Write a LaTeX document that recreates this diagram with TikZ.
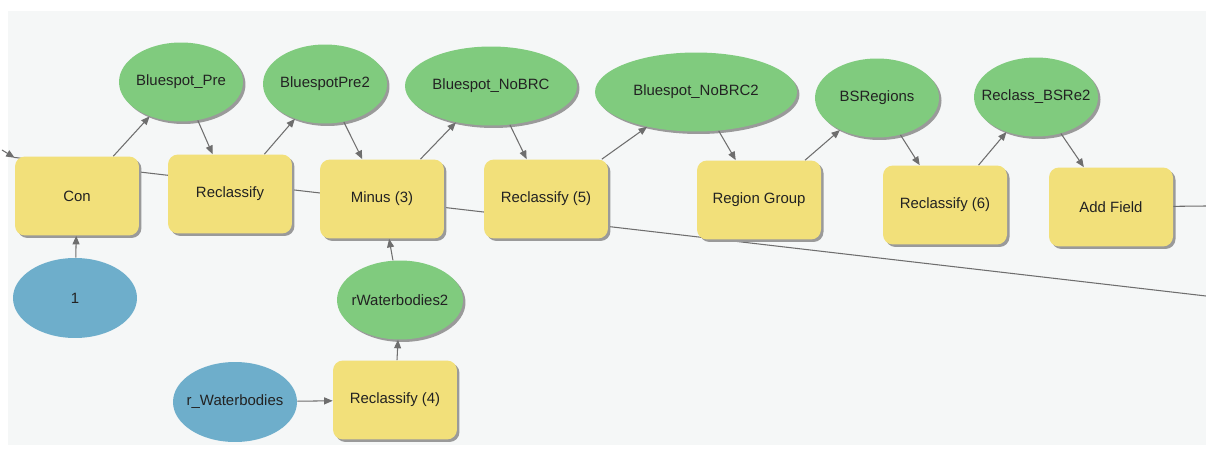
\documentclass[tikz,border=0pt]{standalone}
\usepackage{fontspec}
\setmainfont{Liberation Sans}
\usetikzlibrary{shapes.geometric,shadows,arrows.meta}
\definecolor{panel}{HTML}{F5F7F7}
\definecolor{toolyellow}{HTML}{F2E07A}
\definecolor{datagreen}{HTML}{80CB7E}
\definecolor{inblue}{HTML}{6EAECB}
\definecolor{txt}{HTML}{222222}
\definecolor{linegray}{HTML}{6E6E6E}
\definecolor{shadowgray}{HTML}{9A9A9A}
\newcommand{\lbl}[1]{\makebox[0pt]{#1}}
\begin{document}
\begin{tikzpicture}[x=0.02cm,y=-0.02cm,
  every node/.style={font=\fontsize{8.5}{10}\selectfont, text=txt, inner sep=0pt},
  tool/.style={rectangle, rounded corners=0.2cm, fill=toolyellow,
    minimum width=2.48cm, minimum height=1.58cm,
    drop shadow={shadow xshift=0.05cm, shadow yshift=-0.05cm, fill=shadowgray, opacity=1}},
  dat/.style={ellipse, fill=datagreen, minimum width=2.48cm, minimum height=1.58cm,
    drop shadow={shadow xshift=0.05cm, shadow yshift=-0.05cm, fill=shadowgray, opacity=1}},
  inp/.style={ellipse, fill=inblue, minimum width=2.48cm, minimum height=1.6cm},
  conn/.style={draw=linegray, line width=0.6pt, -{Triangle[length=0.17cm,width=0.14cm]}},
  plain/.style={draw=linegray, line width=0.6pt}]
\useasboundingbox (0,0) rectangle (1206,449);
\fill[white] (0,0) rectangle (1206,449);
\fill[panel] (8,11) rectangle (1206,445);
% long background line and free ends
\coordinate (ll) at (14,157.4);
\coordinate (lr) at (1206,296);
\coordinate (tl) at (2,150);
\coordinate (afr) at (1206,206);
\draw[plain] (ll) -- (lr);
% tools
\node[tool] (con) at (77,196) {Con};
\node[tool] (rc) at (230,194) {Reclassify};
\node[tool] (minus) at (382,199) {Minus (3)};
\node[tool] (rc5) at (546,199) {Reclassify (5)};
\node[tool] (rg) at (759,200) {Region Group};
\node[tool] (rc6) at (945,205) {Reclassify (6)};
\node[tool] (af) at (1111,207) {Add Field};
\node[tool] (rc4) at (395,400) {Reclassify (4)};
% data
\node[dat] (bp) at (181,82) {\lbl{Bluespot\_Pre}};
\node[dat] (bp2) at (325,84) {\lbl{BluespotPre2}};
\node[dat, minimum width=3.44cm] (nb) at (491,86) {\lbl{Bluespot\_NoBRC}};
\node[dat, minimum width=4.04cm] (nb2) at (696,92) {\lbl{Bluespot\_NoBRC2}};
\node[dat] (bsr) at (877,98) {\lbl{BSRegions}};
\node[dat] (rbs) at (1036,97) {\lbl{Reclass\_BSRe2}};
\node[dat, minimum width=2.52cm] (rw2) at (400,300) {\lbl{rWaterbodies2}};
% inputs
\node[inp] (one) at (75,298) {\lbl{1}};
\node[inp] (rw) at (235,402) {\lbl{r\_Waterbodies}};
% connectors
\draw[conn] (tl) -- (con);
\draw[conn] (con) -- (bp);
\draw[conn] (bp) -- (rc);
\draw[conn] (rc) -- (bp2);
\draw[conn] (bp2) -- (minus);
\draw[conn] (minus) -- (nb);
\draw[conn] (nb) -- (rc5);
\draw[conn] (rc5) -- (nb2);
\draw[conn] (nb2) -- (rg);
\draw[conn] (rg) -- (bsr);
\draw[conn] (bsr) -- (rc6);
\draw[conn] (rc6) -- (rbs);
\draw[conn] (rbs) -- (af);
\draw[plain] (af) -- (afr);
\draw[conn] (one) -- (con);
\draw[conn] (rw2) -- (minus);
\draw[conn] (rc4) -- (rw2);
\draw[conn] (rw) -- (rc4);
\end{tikzpicture}
\end{document}
